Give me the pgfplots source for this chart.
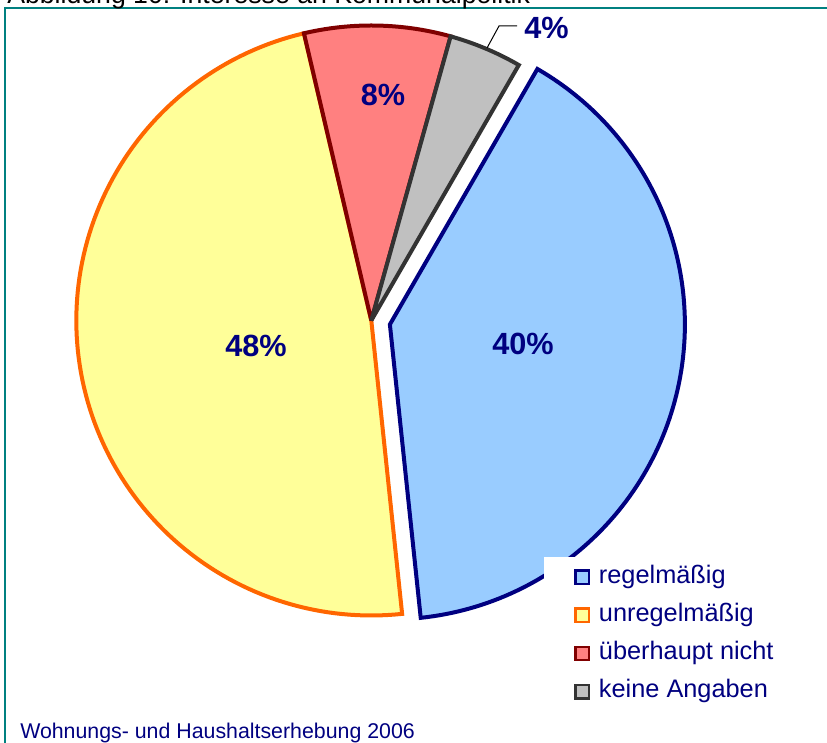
\documentclass[border=0pt]{standalone}
\usepackage{pgfplots}
\pgfplotsset{compat=1.18}
\usepackage{fontspec}
\setmainfont{Liberation Sans}
\definecolor{navyc}{RGB}{0,0,128}
\definecolor{blueF}{RGB}{153,204,255}
\definecolor{yellowF}{RGB}{255,255,153}
\definecolor{orangeL}{RGB}{255,102,0}
\definecolor{redF}{RGB}{255,128,128}
\definecolor{darkredL}{RGB}{128,0,0}
\definecolor{grayF}{RGB}{192,192,192}
\definecolor{grayL}{RGB}{51,51,51}
\definecolor{tealc}{RGB}{0,128,128}
\begin{document}
\begin{tikzpicture}
\useasboundingbox (0,0) rectangle (620.25pt,556.5pt);
\clip (0,0) rectangle (620.25pt,556.5pt);
% shares in percent
\def\pA{40}\def\pB{48}\def\pC{8}\def\pD{4}
\pgfmathsetmacro\aA{60}
\pgfmathsetmacro\aB{\aA-3.6*\pA}
\pgfmathsetmacro\aC{\aB-3.6*\pB}
\pgfmathsetmacro\aD{\aC-3.6*\pC}
\pgfmathsetmacro\aE{\aD-3.6*\pD}
\pgfmathsetmacro\mA{(\aA+\aB)/2}
\def\cx{371.3}\def\cy{421.5}\def\R{295}\def\ex{19}
\pgfmathsetmacro\bx{\cx+\ex*cos(\mA)}
\pgfmathsetmacro\by{\cy+\ex*sin(\mA)}
\begin{axis}[at={(0,0)}, anchor=south west, scale only axis,
  width=620.25pt, height=556.5pt,
  xmin=0, xmax=827, ymin=0, ymax=742,
  hide axis, clip=false,
  legend style={at={(axis cs:574,178.7)}, anchor=north west, draw=none, fill=none,
    inner sep=0pt, row sep=8.1pt, font=\fontsize{19}{22}\selectfont, text=navyc,
    nodes={inner sep=1pt, text height=14pt, text depth=4.5pt},
    cells={anchor=west}},
  legend image code/.code={\path[draw=none, fill=none] (0pt,-1pt) rectangle (17.5pt,1pt);\draw[#1, line width=1.9pt, line join=miter] (1pt,-5pt) rectangle (11pt,5pt);},
  slice/.style={line width=3pt, line join=miter, miter limit=4, samples=120, variable=\t},
]
\draw[tealc, line width=1.7pt] (axis cs:5.3,-20) -- (axis cs:5.3,733.7) -- (axis cs:850,733.7);
\addplot[slice, draw=navyc, fill=blueF, domain=\aB:\aA]
  ({\bx+\R*cos(\t)}, {\by+\R*sin(\t)}) -- (axis cs:\bx,\by) -- cycle;
\addlegendentry{regelmäßig}
\addplot[slice, draw=orangeL, fill=yellowF, domain=\aC:\aB]
  ({\cx+\R*cos(\t)}, {\cy+\R*sin(\t)}) -- (axis cs:\cx,\cy) -- cycle;
\addlegendentry{unregelmäßig}
\addplot[slice, draw=darkredL, fill=redF, domain=\aD:\aC]
  ({\cx+\R*cos(\t)}, {\cy+\R*sin(\t)}) -- (axis cs:\cx,\cy) -- cycle;
\addlegendentry{überhaupt nicht}
\addplot[slice, draw=grayL, fill=grayF, domain=\aE:\aD]
  ({\cx+\R*cos(\t)}, {\cy+\R*sin(\t)}) -- (axis cs:\cx,\cy) -- cycle;
\addlegendentry{keine Angaben}
\fill[white] (axis cs:544,185) rectangle (axis cs:850,-20);
\draw[black, line width=0.75pt] (axis cs:487,694) -- (axis cs:499,716) -- (axis cs:517,716);
\begin{scope}[every node/.style={font=\fontsize{23}{27}\selectfont\bfseries, text=navyc}]
\node at (axis cs:256,396) {48\%};
\node at (axis cs:523,398) {40\%};
\node at (axis cs:383,647) {8\%};
\node at (axis cs:546.5,714.5) {4\%};
\end{scope}
\node[anchor=base west, inner sep=0pt, font=\fontsize{16}{19}\selectfont, text=navyc] at (axis cs:20,4) {Wohnungs- und Haushaltserhebung 2006};
\node[anchor=base west, inner sep=0pt, font=\fontsize{20}{24}\selectfont, text=black] at (axis cs:7,738) {Abbildung 10: Interesse an Kommunalpolitik};
\end{axis}
\end{tikzpicture}
\end{document}
